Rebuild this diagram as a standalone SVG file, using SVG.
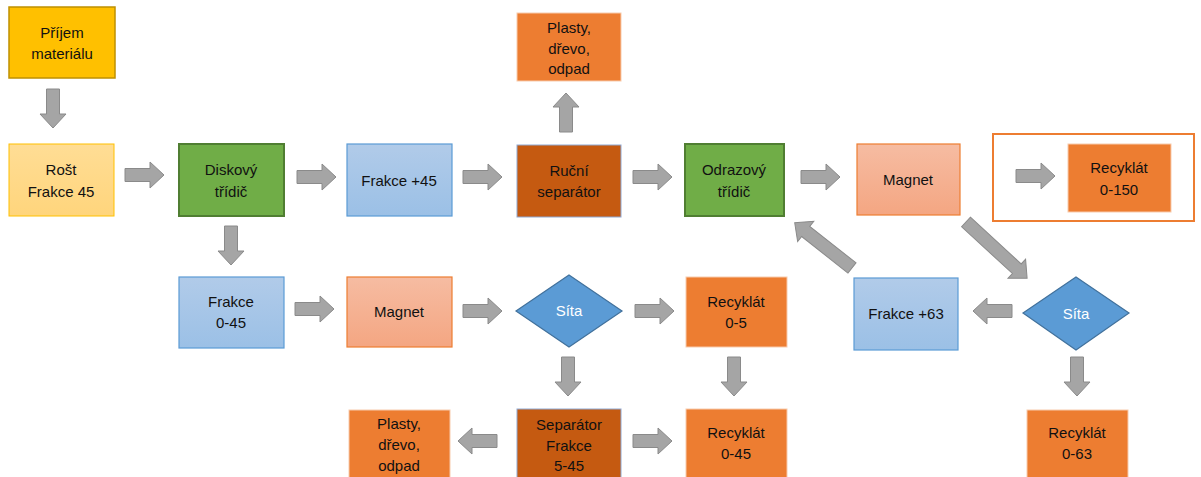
<svg xmlns="http://www.w3.org/2000/svg" width="1201" height="477" viewBox="0 0 1201 477">
<style>
text{font-family:"Liberation Sans",Arial,sans-serif;font-size:15px;fill:#111111;text-anchor:middle}
.w{fill:#ffffff}
.arr{fill:#a5a5a5;stroke:#8a8a8a;stroke-width:1}
.gold{fill:#ffc000;stroke:#bf9000;stroke-width:1.5}
.lgold{fill:url(#gY);stroke:#ffc000;stroke-width:1}
.green{fill:#70ad47;stroke:#507e32;stroke-width:2}
.blue{fill:url(#gB);stroke:#5b9bd5;stroke-width:1.2}
.salmon{fill:url(#gS);stroke:#ed7d31;stroke-width:1.2}
.brown{fill:#c55a11;stroke:#8fa9d4;stroke-width:1}
.orange{fill:#ed7d31;stroke:#f8cbad;stroke-width:1}
.dia{fill:#5b9bd5;stroke:#41719c;stroke-width:1.2}
</style>
<defs>
<linearGradient id="gY" x1="0" y1="0" x2="0" y2="1"><stop offset="0" stop-color="#ffdd95"/><stop offset="1" stop-color="#ffd57c"/></linearGradient>
<linearGradient id="gB" x1="0" y1="0" x2="0" y2="1"><stop offset="0" stop-color="#b1cbe9"/><stop offset="1" stop-color="#9bc0e6"/></linearGradient>
<linearGradient id="gS" x1="0" y1="0" x2="0" y2="1"><stop offset="0" stop-color="#f6bca2"/><stop offset="1" stop-color="#f4a682"/></linearGradient>
<path id="a" d="M0,-6.5 H25 V-13 L39,0 L25,13 V6.5 H0 Z"/>
</defs>

<g id="connectors">
<use href="#a" class="arr" transform="translate(53,89) rotate(90)"/>
<use href="#a" class="arr" transform="translate(125,175)"/>
<use href="#a" class="arr" transform="translate(297,177)"/>
<use href="#a" class="arr" transform="translate(463,177)"/>
<use href="#a" class="arr" transform="translate(633,177)"/>
<use href="#a" class="arr" transform="translate(801,177)"/>
<use href="#a" class="arr" transform="translate(1016,176)"/>
<use href="#a" class="arr" transform="translate(566,132) rotate(-90)"/>
<use href="#a" class="arr" transform="translate(231,226) rotate(90)"/>
<use href="#a" class="arr" transform="translate(295,309)"/>
<use href="#a" class="arr" transform="translate(463,311)"/>
<use href="#a" class="arr" transform="translate(635,311)"/>
<use href="#a" class="arr" transform="translate(1012,311) rotate(180)"/>
<use href="#a" class="arr" transform="translate(568,357) rotate(90)"/>
<use href="#a" class="arr" transform="translate(734,357) rotate(90)"/>
<use href="#a" class="arr" transform="translate(1077,357) rotate(90)"/>
<use href="#a" class="arr" transform="translate(497,441) rotate(180)"/>
<use href="#a" class="arr" transform="translate(633,441)"/>
<path class="arr" transform="translate(966,222) rotate(42.6)" d="M0,-6.5 H69 V-13 L83,0 L69,13 V6.5 H0 Z"/>
<path class="arr" transform="translate(852,268) rotate(-141.7)" d="M0,-6.5 H59 V-13 L73,0 L59,13 V6.5 H0 Z"/>
</g>

<g id="n-prijem"><rect class="gold" x="9" y="7" width="106" height="71"/><text x="62" y="38">Příjem</text><text x="62" y="59">materiálu</text></g>
<g id="n-rost"><rect class="lgold" x="9" y="144" width="105" height="72"/><text x="61" y="175">Rošt</text><text x="61" y="197">Frakce 45</text></g>
<g id="n-diskovy"><rect class="green" x="179" y="144" width="105" height="72"/><text x="231" y="175">Diskový</text><text x="231" y="197">třídič</text></g>
<g id="n-frakce45"><rect class="blue" x="347" y="144" width="105" height="72"/><text x="399" y="186">Frakce +45</text></g>
<g id="n-rucni"><rect class="brown" x="517" y="145" width="104" height="72"/><text x="569" y="176">Ruční</text><text x="569" y="197">separátor</text></g>
<g id="n-plasty1"><rect class="orange" x="517" y="13" width="104" height="68"/><text x="569" y="33">Plasty,</text><text x="569" y="54">dřevo,</text><text x="569" y="74">odpad</text></g>
<g id="n-odrazovy"><rect class="green" x="685" y="144" width="99" height="72"/><text x="734" y="175">Odrazový</text><text x="734" y="197">třídič</text></g>
<g id="n-magnet1"><rect class="salmon" x="857" y="144" width="103" height="71"/><text x="908" y="185">Magnet</text></g>
<g id="n-recyklat150"><rect x="993" y="134" width="201" height="87" fill="none" stroke="#ed7d31" stroke-width="2"/><rect class="orange" x="1068" y="144" width="103" height="68"/><text x="1119" y="173">Recyklát</text><text x="1119" y="195">0-150</text></g>

<g id="n-frakce045"><rect class="blue" x="179" y="277" width="105" height="71"/><text x="231" y="307">Frakce</text><text x="231" y="328">0-45</text></g>
<g id="n-magnet2"><rect class="salmon" x="347" y="277" width="105" height="70"/><text x="399" y="317">Magnet</text></g>
<g id="n-sita1"><polygon class="dia" points="569,275 622,311 569,347 516,311"/><text class="w" x="569" y="316">Síta</text></g>
<g id="n-recyklat05"><rect class="orange" x="686" y="277" width="101" height="70"/><text x="736" y="307">Recyklát</text><text x="736" y="328">0-5</text></g>
<g id="n-frakce63"><rect class="blue" x="854" y="278" width="104" height="72"/><text x="906" y="319">Frakce +63</text></g>
<g id="n-sita2"><polygon class="dia" points="1076,277 1129,313 1076,350 1023,313"/><text class="w" x="1076" y="319">Síta</text></g>

<g id="n-plasty2"><rect class="orange" x="349" y="410" width="101" height="72"/><text x="399" y="429">Plasty,</text><text x="399" y="450">dřevo,</text><text x="399" y="471">odpad</text></g>
<g id="n-separator"><rect class="brown" x="517" y="409" width="104" height="72"/><text x="569" y="430">Separátor</text><text x="569" y="451">Frakce</text><text x="569" y="471">5-45</text></g>
<g id="n-recyklat045"><rect class="orange" x="686" y="409" width="101" height="72"/><text x="736" y="438">Recyklát</text><text x="736" y="459">0-45</text></g>
<g id="n-recyklat063"><rect class="orange" x="1027" y="410" width="101" height="72"/><text x="1077" y="438">Recyklát</text><text x="1077" y="459">0-63</text></g>
</svg>
